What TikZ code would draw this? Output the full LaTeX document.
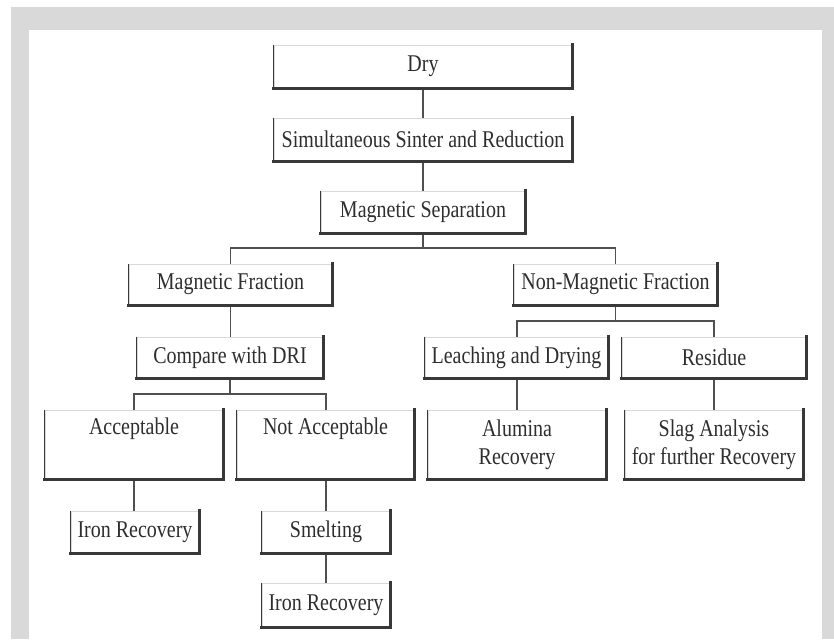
\documentclass[tikz,border=0pt]{standalone}
\usepackage{fontspec}
\setmainfont{Liberation Serif}
\usepackage{graphicx}
\usetikzlibrary{calc}
\definecolor{framegray}{HTML}{D9D9D9}
\definecolor{ink}{HTML}{2E2E2E}
\definecolor{edgedark}{HTML}{383838}
\definecolor{connline}{HTML}{505050}
\newcommand\vs[1]{\scalebox{1}[1.2]{#1}}
\begin{document}
\begin{tikzpicture}[x=0.75pt,y=-0.75pt,
  box/.style={draw=black!15, line width=0.6pt, fill=white, inner sep=0pt, text=ink,
    font=\fontsize{15pt}{17.5pt}\selectfont},
  bx/.style 2 args={box, minimum width=#1*0.75pt, minimum height=#2*0.75pt},
  txt/.style={inner sep=0pt, text=ink, font=\fontsize{15pt}{17.5pt}\selectfont},
  conn/.style={draw=connline, line width=0.9pt},
  edgeL/.style={draw=edgedark, line width=1.1pt},
  edgeBR/.style={draw=edgedark, line width=1.8pt, line cap=rect, line join=miter}]
\useasboundingbox (0,0) rectangle (834,639);
\fill[white] (0,0) rectangle (834,639);
\fill[framegray] (11,7) rectangle (834,639);
\fill[white] (29,30) rectangle (822,639);

% bus coordinates
\coordinate (b1) at (423,248);
\coordinate (b2) at (615.5,321);
\coordinate (b3) at (230,394);

% connectors
\draw[conn] (423,88) -- (423,118);
\draw[conn] (423,161) -- (423,191);
\draw[conn] (423,233) -- (b1);
\draw[conn] (230.5,264) |- (b1) -| (615.5,264);
\draw[conn] (230.5,305) -- (230.5,337);
\draw[conn] (615.5,305) -- (b2);
\draw[conn] (517,337) |- (b2) -| (714,337);
\draw[conn] (230,378) -- (b3);
\draw[conn] (134,410) |- (b3) -| (326,410);
\draw[conn] (517,378) -- (517,410);
\draw[conn] (714,378) -- (714,410);
\draw[conn] (134,479) -- (134,511);
\draw[conn] (326,479) -- (326,511);
\draw[conn] (326,553) -- (326,583);

% boxes
\node[bx={298}{43}] (dry) at (423,66.5) {\vs{Dry}};
\node[bx={298}{43}] (sim) at (423,139.5) {\vs{Simultaneous Sinter and Reduction}};
\node[bx={204}{42}] (msep) at (423,212) {\vs{Magnetic Separation}};
\node[bx={203}{41}] (magf) at (230.5,284.5) {\vs{Magnetic Fraction}};
\node[bx={203}{41}] (nonmag) at (615.5,284.5) {\vs{Non-Magnetic Fraction}};
\node[bx={186}{41}] (cdri) at (230,357.5) {\vs{Compare with DRI}};
\node[bx={183}{41}] (leach) at (516.5,357.5) {\vs{Leaching and Drying}};
\node[bx={184}{41}] (resid) at (714,357.5) {\vs{Residue}};
\node[bx={178}{69}] (acc) at (134,444.5) {};
\node[txt] (acct) at (134,429) {\vs{Acceptable}};
\node[bx={177}{69}] (nacc) at (325.5,444.5) {};
\node[txt] (nacct) at (325.5,429) {\vs{Not Acceptable}};
\node[bx={178}{69}] (alum) at (517,444.5) {\vs{\begin{tabular}{@{}c@{}}Alumina\\Recovery\end{tabular}}};
\node[bx={178}{69}] (slag) at (714,444.5) {\vs{\begin{tabular}{@{}c@{}}Slag Analysis\\for further Recovery\end{tabular}}};
\node[bx={128}{42}] (iron1) at (135,532) {\vs{Iron Recovery}};
\node[bx={128}{42}] (smelt) at (326,532) {\vs{Smelting}};
\node[bx={128}{44}] (iron2) at (326,605) {\vs{Iron Recovery}};

\foreach \n in {dry,sim,msep,magf,nonmag,cdri,leach,resid,acc,nacc,alum,slag,iron1,smelt,iron2}{
  \draw[edgeL] (\n.north west) -- (\n.south west);
  \draw[edgeBR] (\n.south west) -- (\n.south east) -- (\n.north east);
}
\end{tikzpicture}
\end{document}
